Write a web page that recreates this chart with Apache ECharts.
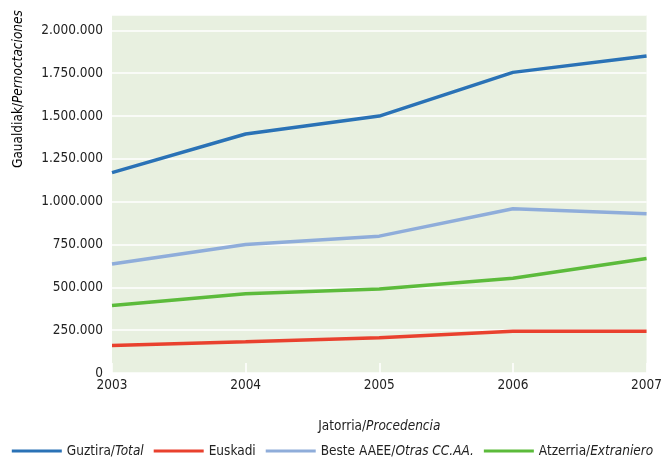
<!DOCTYPE html>
<html><head><meta charset="utf-8">
<script src="https://cdn.jsdelivr.net/npm/echarts@6/dist/echarts.min.js"></script>
<style>html,body{margin:0;padding:0;background:#fff}#c{width:665px;height:466px}</style>
</head><body><div id="c"></div>
<script>
const years = ['2003','2004','2005','2006','2007'];
const total = [1170000, 1395000, 1500000, 1755000, 1850000];
const euskadi = [161000, 183000, 206000, 244000, 244000];
const beste = [636000, 750000, 799000, 959000, 929000];
const atzerria = [394000, 462000, 490000, 553000, 669000];
const seriesNames = ['Guztira/Total', 'Euskadi', 'Beste AAEE/Otras CC.AA.', 'Atzerria/Extraniero'];
const colors = ['#2a72b6', '#e9412e', '#8fadda', '#5cbb3b'];

const FONT = '"DejaVu Sans Condensed","Liberation Sans Narrow",sans-serif';
function fmt(v){ return String(v).replace(/\B(?=(\d{3})+(?!\d))/g, '.'); }
function richName(name){
  const i = name.indexOf('/');
  if (i < 0) return '{n|' + name + '}';
  return '{n|' + name.slice(0, i + 1) + '}{i|' + name.slice(i + 1) + '}';
}
const rich = {
  n: {fontFamily: FONT, fontSize: 13.5, color: '#222'},
  i: {fontFamily: FONT, fontSize: 13.5, color: '#222', fontStyle: 'italic'}
};
const datas = [total, euskadi, beste, atzerria];
const chart = echarts.init(document.getElementById('c'));
chart.setOption({
  animation: false,
  grid: {left: 112, right: 13, top: 15, bottom: 93, show: true, backgroundColor: '#e8f0e0', borderWidth: 0},
  xAxis: {
    type: 'category', data: years, boundaryGap: false,
    axisLine: {show: false},
    axisTick: {show: true, inside: true, length: 10, lineStyle: {color: '#ffffff', width: 1.5}},
    axisLabel: {fontFamily: FONT, fontSize: 13.5, color: '#222', margin: 5},
    name: '{n|Jatorria/}{i|Procedencia}', nameLocation: 'middle', nameGap: 46,
    nameTextStyle: {rich: rich}
  },
  yAxis: {
    type: 'value', min: 0, max: 2090000, interval: 250000,
    axisLine: {show: false}, axisTick: {show: false},
    splitLine: {lineStyle: {color: '#ffffff', width: 1.5}},
    axisLabel: {fontFamily: FONT, fontSize: 13.5, color: '#222', margin: 9, showMaxLabel: false,
      formatter: v => fmt(v)}
  },
  graphic: [{
    type: 'text', x: 11, y: 168, rotation: Math.PI / 2,
    style: {text: '{n|Gaualdiak/}{i|Pernoctaciones}', rich: rich, textAlign: 'left', textVerticalAlign: 'top'}
  }],
  legend: {
    bottom: 3, left: 'center', icon: 'rect', itemWidth: 50, itemHeight: 3, itemGap: 10,
    data: seriesNames,
    formatter: name => richName(name),
    textStyle: {rich: rich}
  },
  series: seriesNames.map((n, k) => ({
    name: n, type: 'line', data: datas[k], showSymbol: false, symbol: 'none',
    lineStyle: {width: 3.5, color: colors[k]}, itemStyle: {color: colors[k]}
  }))
});
</script></body></html>
